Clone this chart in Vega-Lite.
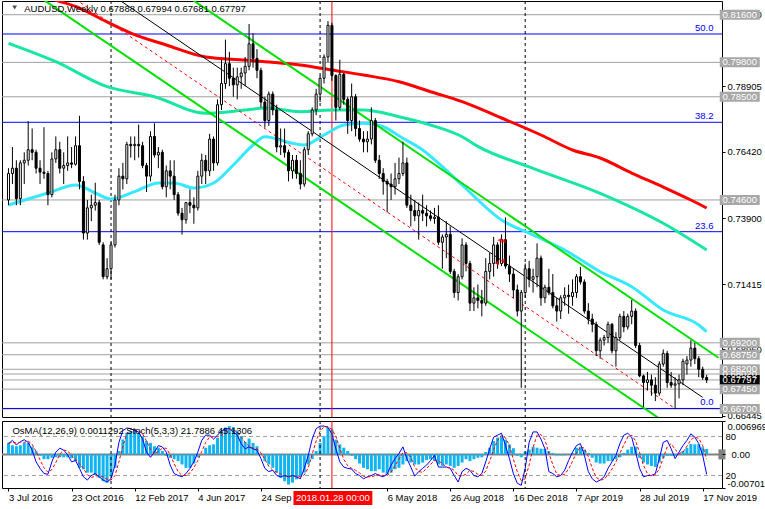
{
"$schema":"https://vega.github.io/schema/vega-lite/v6.json",
"background":"white",
"padding":{"left":0,"top":0,"right":0,"bottom":0},
"spacing":4,
"bounds":"flush",
"config":{"view":{"stroke":"black","strokeWidth":1},"axis":{"labelFont":"Liberation Sans","labelFontSize":9.5,"labelColor":"black","tickColor":"black","domain":false,"grid":false,"labelOverlap":false,"labelBound":false}},
"datasets":{
"cd":[
{"d":"2016-07-03","o":0.7460,"h":0.7580,"l":0.7440,"c":0.7560,"m":0.0024,"k":69,"s":70},
{"d":"2016-07-10","o":0.7560,"h":0.7660,"l":0.7520,"c":0.7580,"m":0.0019,"k":74,"s":71},
{"d":"2016-07-17","o":0.7580,"h":0.7610,"l":0.7440,"c":0.7465,"m":0.0017,"k":67,"s":70},
{"d":"2016-07-24","o":0.7465,"h":0.7610,"l":0.7440,"c":0.7600,"m":0.0019,"k":72,"s":71},
{"d":"2016-07-31","o":0.7600,"h":0.7640,"l":0.7520,"c":0.7610,"m":0.0024,"k":75,"s":71},
{"d":"2016-08-07","o":0.7610,"h":0.7758,"l":0.7590,"c":0.7650,"m":0.0024,"k":71,"s":73},
{"d":"2016-08-14","o":0.7650,"h":0.7730,"l":0.7610,"c":0.7640,"m":0.0016,"k":59,"s":68},
{"d":"2016-08-21","o":0.7640,"h":0.7650,"l":0.7560,"c":0.7580,"m":0.0007,"k":41,"s":57},
{"d":"2016-08-28","o":0.7580,"h":0.7610,"l":0.7520,"c":0.7565,"m":-0.0003,"k":31,"s":44},
{"d":"2016-09-04","o":0.7565,"h":0.7735,"l":0.7540,"c":0.7560,"m":-0.0010,"k":23,"s":32},
{"d":"2016-09-11","o":0.7560,"h":0.7570,"l":0.7440,"c":0.7480,"m":-0.0010,"k":22,"s":25},
{"d":"2016-09-18","o":0.7480,"h":0.7640,"l":0.7470,"c":0.7615,"m":-0.0007,"k":41,"s":29},
{"d":"2016-09-25","o":0.7615,"h":0.7700,"l":0.7600,"c":0.7650,"m":-0.0006,"k":56,"s":40},
{"d":"2016-10-02","o":0.7650,"h":0.7680,"l":0.7560,"c":0.7580,"m":-0.0006,"k":62,"s":53},
{"d":"2016-10-09","o":0.7580,"h":0.7640,"l":0.7520,"c":0.7590,"m":-0.0006,"k":59,"s":59},
{"d":"2016-10-16","o":0.7590,"h":0.7700,"l":0.7570,"c":0.7600,"m":-0.0006,"k":52,"s":58},
{"d":"2016-10-23","o":0.7600,"h":0.7660,"l":0.7580,"c":0.7595,"m":-0.0008,"k":41,"s":51},
{"d":"2016-10-30","o":0.7595,"h":0.7700,"l":0.7590,"c":0.7665,"m":-0.0014,"k":43,"s":45},
{"d":"2016-11-06","o":0.7665,"h":0.7778,"l":0.7500,"c":0.7530,"m":-0.0028,"k":31,"s":38},
{"d":"2016-11-13","o":0.7530,"h":0.7550,"l":0.7310,"c":0.7335,"m":-0.0031,"k":18,"s":31},
{"d":"2016-11-20","o":0.7335,"h":0.7460,"l":0.7310,"c":0.7430,"m":-0.0038,"k":13,"s":21},
{"d":"2016-11-27","o":0.7430,"h":0.7480,"l":0.7380,"c":0.7440,"m":-0.0038,"k":20,"s":17},
{"d":"2016-12-04","o":0.7440,"h":0.7525,"l":0.7420,"c":0.7450,"m":-0.0043,"k":23,"s":19},
{"d":"2016-12-11","o":0.7450,"h":0.7460,"l":0.7290,"c":0.7300,"m":-0.0049,"k":18,"s":20},
{"d":"2016-12-18","o":0.7290,"h":0.7300,"l":0.7160,"c":0.7170,"m":-0.0056,"k":13,"s":18},
{"d":"2016-12-25","o":0.7170,"h":0.7240,"l":0.7160,"c":0.7200,"m":-0.0059,"k":10,"s":14},
{"d":"2017-01-01","o":0.7200,"h":0.7300,"l":0.7160,"c":0.7290,"m":-0.0045,"k":15,"s":13},
{"d":"2017-01-08","o":0.7290,"h":0.7480,"l":0.7280,"c":0.7460,"m":-0.0028,"k":36,"s":20},
{"d":"2017-01-15","o":0.7460,"h":0.7580,"l":0.7440,"c":0.7550,"m":0.0007,"k":71,"s":41},
{"d":"2017-01-22","o":0.7550,"h":0.7600,"l":0.7500,"c":0.7540,"m":0.0031,"k":89,"s":65},
{"d":"2017-01-29","o":0.7540,"h":0.7680,"l":0.7520,"c":0.7670,"m":0.0045,"k":93,"s":84},
{"d":"2017-02-05","o":0.7670,"h":0.7700,"l":0.7620,"c":0.7665,"m":0.0049,"k":92,"s":91},
{"d":"2017-02-12","o":0.7665,"h":0.7700,"l":0.7610,"c":0.7670,"m":0.0052,"k":89,"s":91},
{"d":"2017-02-19","o":0.7670,"h":0.7745,"l":0.7620,"c":0.7665,"m":0.0045,"k":87,"s":89},
{"d":"2017-02-26","o":0.7665,"h":0.7680,"l":0.7580,"c":0.7590,"m":0.0038,"k":76,"s":84},
{"d":"2017-03-05","o":0.7590,"h":0.7600,"l":0.7490,"c":0.7550,"m":0.0028,"k":56,"s":73},
{"d":"2017-03-12","o":0.7550,"h":0.7720,"l":0.7530,"c":0.7700,"m":0.0024,"k":48,"s":60},
{"d":"2017-03-19","o":0.7700,"h":0.7750,"l":0.7620,"c":0.7630,"m":0.0017,"k":56,"s":53},
{"d":"2017-03-26","o":0.7630,"h":0.7660,"l":0.7580,"c":0.7640,"m":0.0014,"k":66,"s":57},
{"d":"2017-04-02","o":0.7640,"h":0.7650,"l":0.7500,"c":0.7510,"m":0.0007,"k":64,"s":62},
{"d":"2017-04-09","o":0.7510,"h":0.7590,"l":0.7470,"c":0.7570,"m":-0.0003,"k":56,"s":62},
{"d":"2017-04-16","o":0.7570,"h":0.7610,"l":0.7500,"c":0.7550,"m":-0.0007,"k":36,"s":52},
{"d":"2017-04-23","o":0.7550,"h":0.7610,"l":0.7460,"c":0.7480,"m":-0.0010,"k":23,"s":38},
{"d":"2017-04-30","o":0.7480,"h":0.7490,"l":0.7400,"c":0.7410,"m":-0.0014,"k":20,"s":26},
{"d":"2017-05-07","o":0.7410,"h":0.7430,"l":0.7329,"c":0.7385,"m":-0.0021,"k":18,"s":20},
{"d":"2017-05-14","o":0.7385,"h":0.7450,"l":0.7370,"c":0.7450,"m":-0.0028,"k":23,"s":20},
{"d":"2017-05-21","o":0.7450,"h":0.7500,"l":0.7410,"c":0.7440,"m":-0.0028,"k":31,"s":24},
{"d":"2017-05-28","o":0.7440,"h":0.7470,"l":0.7370,"c":0.7430,"m":-0.0019,"k":41,"s":32},
{"d":"2017-06-04","o":0.7430,"h":0.7570,"l":0.7420,"c":0.7550,"m":-0.0006,"k":56,"s":43},
{"d":"2017-06-11","o":0.7550,"h":0.7635,"l":0.7520,"c":0.7610,"m":0.0001,"k":74,"s":57},
{"d":"2017-06-18","o":0.7610,"h":0.7630,"l":0.7520,"c":0.7570,"m":0.0014,"k":82,"s":71},
{"d":"2017-06-25","o":0.7570,"h":0.7710,"l":0.7550,"c":0.7690,"m":0.0019,"k":82,"s":79},
{"d":"2017-07-02","o":0.7690,"h":0.7700,"l":0.7570,"c":0.7600,"m":0.0021,"k":76,"s":80},
{"d":"2017-07-09","o":0.7600,"h":0.7840,"l":0.7590,"c":0.7820,"m":0.0035,"k":82,"s":80},
{"d":"2017-07-16","o":0.7820,"h":0.7990,"l":0.7800,"c":0.7900,"m":0.0049,"k":89,"s":82},
{"d":"2017-07-23","o":0.7900,"h":0.8066,"l":0.7880,"c":0.7975,"m":0.0056,"k":91,"s":87},
{"d":"2017-07-30","o":0.7975,"h":0.8020,"l":0.7890,"c":0.7920,"m":0.0059,"k":92,"s":91},
{"d":"2017-08-06","o":0.7920,"h":0.7960,"l":0.7850,"c":0.7895,"m":0.0057,"k":87,"s":90},
{"d":"2017-08-13","o":0.7895,"h":0.7960,"l":0.7840,"c":0.7925,"m":0.0050,"k":82,"s":87},
{"d":"2017-08-20","o":0.7925,"h":0.7960,"l":0.7880,"c":0.7940,"m":0.0038,"k":69,"s":79},
{"d":"2017-08-27","o":0.7940,"h":0.8000,"l":0.7890,"c":0.7965,"m":0.0026,"k":61,"s":71},
{"d":"2017-09-03","o":0.7965,"h":0.8125,"l":0.7950,"c":0.8050,"m":0.0033,"k":64,"s":65},
{"d":"2017-09-10","o":0.8050,"h":0.8090,"l":0.7960,"c":0.7995,"m":0.0024,"k":61,"s":62},
{"d":"2017-09-17","o":0.7995,"h":0.8030,"l":0.7920,"c":0.7950,"m":0.0017,"k":59,"s":61},
{"d":"2017-09-24","o":0.7950,"h":0.7960,"l":0.7810,"c":0.7830,"m":0.0000,"k":46,"s":55},
{"d":"2017-10-01","o":0.7830,"h":0.7850,"l":0.7733,"c":0.7760,"m":-0.0014,"k":31,"s":45},
{"d":"2017-10-08","o":0.7760,"h":0.7870,"l":0.7740,"c":0.7860,"m":-0.0021,"k":26,"s":34},
{"d":"2017-10-15","o":0.7860,"h":0.7870,"l":0.7780,"c":0.7800,"m":-0.0028,"k":28,"s":28},
{"d":"2017-10-22","o":0.7800,"h":0.7820,"l":0.7640,"c":0.7660,"m":-0.0038,"k":20,"s":25},
{"d":"2017-10-29","o":0.7660,"h":0.7730,"l":0.7630,"c":0.7665,"m":-0.0049,"k":18,"s":22},
{"d":"2017-11-05","o":0.7665,"h":0.7730,"l":0.7620,"c":0.7640,"m":-0.0056,"k":20,"s":19},
{"d":"2017-11-12","o":0.7640,"h":0.7650,"l":0.7530,"c":0.7570,"m":-0.0063,"k":18,"s":19},
{"d":"2017-11-19","o":0.7570,"h":0.7630,"l":0.7540,"c":0.7610,"m":-0.0059,"k":20,"s":19},
{"d":"2017-11-26","o":0.7610,"h":0.7630,"l":0.7540,"c":0.7560,"m":-0.0052,"k":18,"s":19},
{"d":"2017-12-03","o":0.7560,"h":0.7610,"l":0.7500,"c":0.7520,"m":-0.0045,"k":15,"s":18},
{"d":"2017-12-10","o":0.7520,"h":0.7660,"l":0.7510,"c":0.7650,"m":-0.0038,"k":31,"s":21},
{"d":"2017-12-17","o":0.7650,"h":0.7720,"l":0.7630,"c":0.7710,"m":-0.0021,"k":51,"s":32},
{"d":"2017-12-24","o":0.7710,"h":0.7810,"l":0.7700,"c":0.7800,"m":-0.0010,"k":76,"s":53},
{"d":"2017-12-31","o":0.7800,"h":0.7880,"l":0.7780,"c":0.7860,"m":0.0007,"k":92,"s":73},
{"d":"2018-01-07","o":0.7860,"h":0.7930,"l":0.7830,"c":0.7920,"m":0.0024,"k":96,"s":88},
{"d":"2018-01-14","o":0.7920,"h":0.8010,"l":0.7900,"c":0.8000,"m":0.0038,"k":96,"s":95},
{"d":"2018-01-21","o":0.8000,"h":0.8136,"l":0.7980,"c":0.8120,"m":0.0056,"k":94,"s":95},
{"d":"2018-01-28","o":0.8120,"h":0.8130,"l":0.7910,"c":0.7930,"m":0.0052,"k":84,"s":91},
{"d":"2018-02-04","o":0.7930,"h":0.7935,"l":0.7760,"c":0.7810,"m":0.0031,"k":61,"s":80},
{"d":"2018-02-11","o":0.7810,"h":0.7990,"l":0.7800,"c":0.7935,"m":0.0021,"k":41,"s":62},
{"d":"2018-02-18","o":0.7935,"h":0.7940,"l":0.7820,"c":0.7840,"m":0.0014,"k":33,"s":45},
{"d":"2018-02-25","o":0.7840,"h":0.7850,"l":0.7710,"c":0.7760,"m":0.0007,"k":31,"s":35},
{"d":"2018-03-04","o":0.7760,"h":0.7900,"l":0.7720,"c":0.7850,"m":-0.0003,"k":30,"s":31},
{"d":"2018-03-11","o":0.7850,"h":0.7860,"l":0.7700,"c":0.7730,"m":-0.0010,"k":23,"s":28},
{"d":"2018-03-18","o":0.7730,"h":0.7760,"l":0.7680,"c":0.7690,"m":-0.0019,"k":20,"s":24},
{"d":"2018-03-25","o":0.7690,"h":0.7720,"l":0.7640,"c":0.7680,"m":-0.0028,"k":15,"s":19},
{"d":"2018-04-01","o":0.7680,"h":0.7720,"l":0.7640,"c":0.7690,"m":-0.0031,"k":18,"s":18},
{"d":"2018-04-08","o":0.7690,"h":0.7810,"l":0.7670,"c":0.7760,"m":-0.0035,"k":20,"s":18},
{"d":"2018-04-15","o":0.7760,"h":0.7770,"l":0.7600,"c":0.7610,"m":-0.0035,"k":23,"s":20},
{"d":"2018-04-22","o":0.7610,"h":0.7630,"l":0.7540,"c":0.7560,"m":-0.0031,"k":20,"s":21},
{"d":"2018-04-29","o":0.7560,"h":0.7580,"l":0.7480,"c":0.7530,"m":-0.0038,"k":18,"s":20},
{"d":"2018-05-06","o":0.7530,"h":0.7540,"l":0.7413,"c":0.7520,"m":-0.0042,"k":22,"s":20},
{"d":"2018-05-13","o":0.7520,"h":0.7560,"l":0.7460,"c":0.7510,"m":-0.0038,"k":36,"s":25},
{"d":"2018-05-20","o":0.7510,"h":0.7600,"l":0.7480,"c":0.7540,"m":-0.0031,"k":46,"s":35},
{"d":"2018-05-27","o":0.7540,"h":0.7620,"l":0.7520,"c":0.7560,"m":-0.0028,"k":54,"s":45},
{"d":"2018-06-03","o":0.7560,"h":0.7680,"l":0.7550,"c":0.7600,"m":-0.0021,"k":64,"s":55},
{"d":"2018-06-10","o":0.7600,"h":0.7620,"l":0.7430,"c":0.7440,"m":-0.0014,"k":46,"s":55},
{"d":"2018-06-17","o":0.7440,"h":0.7480,"l":0.7360,"c":0.7420,"m":-0.0017,"k":33,"s":48},
{"d":"2018-06-24","o":0.7420,"h":0.7460,"l":0.7380,"c":0.7400,"m":-0.0021,"k":19,"s":33},
{"d":"2018-07-01","o":0.7400,"h":0.7450,"l":0.7310,"c":0.7420,"m":-0.0021,"k":26,"s":26},
{"d":"2018-07-08","o":0.7420,"h":0.7480,"l":0.7380,"c":0.7410,"m":-0.0017,"k":31,"s":25},
{"d":"2018-07-15","o":0.7410,"h":0.7440,"l":0.7360,"c":0.7400,"m":-0.0012,"k":36,"s":31},
{"d":"2018-07-22","o":0.7400,"h":0.7420,"l":0.7380,"c":0.7390,"m":-0.0010,"k":43,"s":37},
{"d":"2018-07-29","o":0.7390,"h":0.7430,"l":0.7370,"c":0.7395,"m":-0.0014,"k":51,"s":43},
{"d":"2018-08-05","o":0.7395,"h":0.7440,"l":0.7290,"c":0.7300,"m":-0.0021,"k":33,"s":42},
{"d":"2018-08-12","o":0.7300,"h":0.7330,"l":0.7200,"c":0.7320,"m":-0.0024,"k":33,"s":39},
{"d":"2018-08-19","o":0.7320,"h":0.7380,"l":0.7240,"c":0.7330,"m":-0.0021,"k":33,"s":33},
{"d":"2018-08-26","o":0.7330,"h":0.7360,"l":0.7180,"c":0.7190,"m":-0.0024,"k":31,"s":32},
{"d":"2018-09-02","o":0.7190,"h":0.7200,"l":0.7090,"c":0.7110,"m":-0.0028,"k":20,"s":28},
{"d":"2018-09-09","o":0.7110,"h":0.7180,"l":0.7080,"c":0.7170,"m":-0.0024,"k":10,"s":20},
{"d":"2018-09-16","o":0.7170,"h":0.7315,"l":0.7160,"c":0.7290,"m":-0.0017,"k":26,"s":19},
{"d":"2018-09-23","o":0.7290,"h":0.7300,"l":0.7190,"c":0.7220,"m":-0.0010,"k":31,"s":22},
{"d":"2018-09-30","o":0.7220,"h":0.7230,"l":0.7040,"c":0.7070,"m":-0.0014,"k":28,"s":28},
{"d":"2018-10-07","o":0.7070,"h":0.7130,"l":0.7040,"c":0.7090,"m":-0.0010,"k":20,"s":26},
{"d":"2018-10-14","o":0.7090,"h":0.7140,"l":0.7050,"c":0.7080,"m":-0.0007,"k":18,"s":22},
{"d":"2018-10-21","o":0.7080,"h":0.7120,"l":0.7020,"c":0.7070,"m":-0.0006,"k":23,"s":20},
{"d":"2018-10-28","o":0.7070,"h":0.7240,"l":0.7060,"c":0.7190,"m":0.0005,"k":41,"s":27},
{"d":"2018-11-04","o":0.7190,"h":0.7260,"l":0.7160,"c":0.7220,"m":0.0014,"k":61,"s":42},
{"d":"2018-11-11","o":0.7220,"h":0.7320,"l":0.7170,"c":0.7290,"m":0.0028,"k":79,"s":60},
{"d":"2018-11-18","o":0.7290,"h":0.7300,"l":0.7200,"c":0.7220,"m":0.0035,"k":82,"s":74},
{"d":"2018-11-25","o":0.7220,"h":0.7330,"l":0.7210,"c":0.7310,"m":0.0038,"k":85,"s":82},
{"d":"2018-12-02","o":0.7310,"h":0.7394,"l":0.7200,"c":0.7210,"m":0.0031,"k":66,"s":78},
{"d":"2018-12-09","o":0.7210,"h":0.7250,"l":0.7150,"c":0.7180,"m":0.0021,"k":46,"s":66},
{"d":"2018-12-16","o":0.7180,"h":0.7200,"l":0.7090,"c":0.7120,"m":0.0013,"k":23,"s":45},
{"d":"2018-12-23","o":0.7120,"h":0.7140,"l":0.7020,"c":0.7040,"m":-0.0003,"k":8,"s":26},
{"d":"2018-12-30","o":0.7040,"h":0.7120,"l":0.6750,"c":0.7110,"m":-0.0006,"k":5,"s":12},
{"d":"2019-01-06","o":0.7110,"h":0.7220,"l":0.7090,"c":0.7200,"m":0.0006,"k":31,"s":15},
{"d":"2019-01-13","o":0.7200,"h":0.7230,"l":0.7130,"c":0.7160,"m":0.0010,"k":71,"s":36},
{"d":"2019-01-20","o":0.7160,"h":0.7200,"l":0.7110,"c":0.7170,"m":0.0016,"k":87,"s":63},
{"d":"2019-01-27","o":0.7170,"h":0.7296,"l":0.7130,"c":0.7240,"m":0.0014,"k":87,"s":82},
{"d":"2019-02-03","o":0.7240,"h":0.7250,"l":0.7060,"c":0.7090,"m":0.0012,"k":76,"s":83},
{"d":"2019-02-10","o":0.7090,"h":0.7140,"l":0.7070,"c":0.7130,"m":0.0012,"k":61,"s":75},
{"d":"2019-02-17","o":0.7130,"h":0.7200,"l":0.7100,"c":0.7110,"m":0.0007,"k":26,"s":54},
{"d":"2019-02-24","o":0.7110,"h":0.7180,"l":0.7050,"c":0.7060,"m":0.0003,"k":23,"s":37},
{"d":"2019-03-03","o":0.7060,"h":0.7090,"l":0.7000,"c":0.7040,"m":-0.0002,"k":18,"s":22},
{"d":"2019-03-10","o":0.7040,"h":0.7100,"l":0.7010,"c":0.7090,"m":-0.0002,"k":20,"s":20},
{"d":"2019-03-17","o":0.7090,"h":0.7130,"l":0.7060,"c":0.7100,"m":-0.0002,"k":28,"s":22},
{"d":"2019-03-24","o":0.7100,"h":0.7140,"l":0.7030,"c":0.7095,"m":0.0000,"k":43,"s":30},
{"d":"2019-03-31","o":0.7095,"h":0.7160,"l":0.7060,"c":0.7110,"m":0.0003,"k":56,"s":42},
{"d":"2019-04-07","o":0.7110,"h":0.7180,"l":0.7090,"c":0.7170,"m":0.0014,"k":66,"s":55},
{"d":"2019-04-14","o":0.7170,"h":0.7207,"l":0.7140,"c":0.7150,"m":0.0016,"k":69,"s":64},
{"d":"2019-04-21","o":0.7150,"h":0.7160,"l":0.7030,"c":0.7040,"m":0.0010,"k":51,"s":62},
{"d":"2019-04-28","o":0.7040,"h":0.7070,"l":0.6990,"c":0.7010,"m":0.0003,"k":26,"s":49},
{"d":"2019-05-05","o":0.7010,"h":0.7030,"l":0.6960,"c":0.6990,"m":-0.0007,"k":15,"s":31},
{"d":"2019-05-12","o":0.6990,"h":0.7000,"l":0.6870,"c":0.6890,"m":-0.0017,"k":10,"s":17},
{"d":"2019-05-19","o":0.6890,"h":0.6940,"l":0.6860,"c":0.6930,"m":-0.0019,"k":13,"s":13},
{"d":"2019-05-26","o":0.6930,"h":0.6950,"l":0.6910,"c":0.6940,"m":-0.0019,"k":18,"s":14},
{"d":"2019-06-02","o":0.6940,"h":0.7000,"l":0.6920,"c":0.6990,"m":-0.0014,"k":31,"s":21},
{"d":"2019-06-09","o":0.6990,"h":0.6995,"l":0.6880,"c":0.6890,"m":-0.0014,"k":41,"s":30},
{"d":"2019-06-16","o":0.6890,"h":0.6960,"l":0.6830,"c":0.6940,"m":-0.0010,"k":51,"s":41},
{"d":"2019-06-23","o":0.6940,"h":0.7030,"l":0.6930,"c":0.7020,"m":-0.0006,"k":69,"s":54},
{"d":"2019-06-30","o":0.7020,"h":0.7040,"l":0.6960,"c":0.6980,"m":0.0003,"k":82,"s":67},
{"d":"2019-07-07","o":0.6980,"h":0.7030,"l":0.6970,"c":0.7020,"m":0.0010,"k":85,"s":79},
{"d":"2019-07-14","o":0.7020,"h":0.7082,"l":0.6990,"c":0.7040,"m":0.0016,"k":79,"s":82},
{"d":"2019-07-21","o":0.7040,"h":0.7050,"l":0.6900,"c":0.6910,"m":0.0016,"k":56,"s":73},
{"d":"2019-07-28","o":0.6910,"h":0.6920,"l":0.6790,"c":0.6795,"m":-0.0007,"k":31,"s":55},
{"d":"2019-08-04","o":0.6795,"h":0.6800,"l":0.6677,"c":0.6770,"m":-0.0017,"k":18,"s":35},
{"d":"2019-08-11","o":0.6770,"h":0.6810,"l":0.6740,"c":0.6780,"m":-0.0021,"k":20,"s":23},
{"d":"2019-08-18","o":0.6780,"h":0.6800,"l":0.6720,"c":0.6760,"m":-0.0024,"k":20,"s":19},
{"d":"2019-08-25","o":0.6760,"h":0.6790,"l":0.6700,"c":0.6730,"m":-0.0026,"k":23,"s":21},
{"d":"2019-09-01","o":0.6730,"h":0.6850,"l":0.6720,"c":0.6840,"m":-0.0017,"k":46,"s":30},
{"d":"2019-09-08","o":0.6840,"h":0.6895,"l":0.6830,"c":0.6880,"m":-0.0007,"k":71,"s":47},
{"d":"2019-09-15","o":0.6880,"h":0.6890,"l":0.6750,"c":0.6770,"m":-0.0003,"k":74,"s":64},
{"d":"2019-09-22","o":0.6770,"h":0.6810,"l":0.6750,"c":0.6760,"m":-0.0003,"k":61,"s":69},
{"d":"2019-09-29","o":0.6760,"h":0.6790,"l":0.6670,"c":0.6765,"m":-0.0003,"k":46,"s":60},
{"d":"2019-10-06","o":0.6765,"h":0.6800,"l":0.6710,"c":0.6780,"m":0.0000,"k":56,"s":54},
{"d":"2019-10-13","o":0.6780,"h":0.6860,"l":0.6760,"c":0.6850,"m":0.0007,"k":66,"s":56},
{"d":"2019-10-20","o":0.6840,"h":0.6870,"l":0.6800,"c":0.6855,"m":0.0014,"k":74,"s":65},
{"d":"2019-10-27","o":0.6855,"h":0.6930,"l":0.6830,"c":0.6900,"m":0.0022,"k":84,"s":75},
{"d":"2019-11-03","o":0.6900,"h":0.6920,"l":0.6840,"c":0.6860,"m":0.0021,"k":79,"s":79},
{"d":"2019-11-10","o":0.6860,"h":0.6870,"l":0.6790,"c":0.6820,"m":0.0021,"k":69,"s":77},
{"d":"2019-11-17","o":0.6820,"h":0.6830,"l":0.6780,"c":0.6789,"m":0.0015,"k":51,"s":66},
{"d":"2019-11-24","o":0.67888,"h":0.67994,"l":0.67681,"c":0.67797,"m":0.0011292,"k":21.7886,"s":45.1306}
],
"ma":[
{"d":"2016-07-03","v":0.8290,"n":"slow"},{"d":"2016-09-25","v":0.82157,"n":"slow"},{"d":"2016-11-06","v":0.81854,"n":"slow"},{"d":"2016-12-18","v":0.81401,"n":"slow"},{"d":"2017-02-05","v":0.80909,"n":"slow"},{"d":"2017-04-09","v":0.80456,"n":"slow"},{"d":"2017-06-18","v":0.80002,"n":"slow"},{"d":"2017-08-27","v":0.79889,"n":"slow"},{"d":"2017-10-01","v":0.79825,"n":"slow"},{"d":"2017-12-03","v":0.79700,"n":"slow"},{"d":"2018-01-28","v":0.79511,"n":"slow"},{"d":"2018-03-25","v":0.79322,"n":"slow"},{"d":"2018-05-27","v":0.79069,"n":"slow"},{"d":"2018-07-22","v":0.78691,"n":"slow"},{"d":"2018-09-16","v":0.78313,"n":"slow"},{"d":"2018-11-25","v":0.77697,"n":"slow"},{"d":"2019-02-03","v":0.77055,"n":"slow"},{"d":"2019-03-31","v":0.76488,"n":"slow"},{"d":"2019-05-19","v":0.76185,"n":"slow"},{"d":"2019-07-14","v":0.75618,"n":"slow"},{"d":"2019-09-08","v":0.75089,"n":"slow"},{"d":"2019-10-27","v":0.74598,"n":"slow"},{"d":"2019-11-24","v":0.74296,"n":"slow"},
{"d":"2016-07-03","v":0.80520,"n":"mid"},{"d":"2016-09-25","v":0.79825,"n":"mid"},{"d":"2016-12-25","v":0.78880,"n":"mid"},{"d":"2017-03-19","v":0.78502,"n":"mid"},{"d":"2017-06-18","v":0.77875,"n":"mid"},{"d":"2017-08-27","v":0.78000,"n":"mid"},{"d":"2017-10-01","v":0.78075,"n":"mid"},{"d":"2017-12-03","v":0.77935,"n":"mid"},{"d":"2018-01-28","v":0.78000,"n":"mid"},{"d":"2018-03-25","v":0.78000,"n":"mid"},{"d":"2018-05-27","v":0.77746,"n":"mid"},{"d":"2018-07-22","v":0.77433,"n":"mid"},{"d":"2018-09-16","v":0.76990,"n":"mid"},{"d":"2018-10-14","v":0.76623,"n":"mid"},{"d":"2019-01-20","v":0.75796,"n":"mid"},{"d":"2019-05-19","v":0.74851,"n":"mid"},{"d":"2019-09-08","v":0.73717,"n":"mid"},{"d":"2019-11-24","v":0.72708,"n":"mid"},
{"d":"2016-07-03","v":0.74409,"n":"fast"},{"d":"2016-09-11","v":0.74863,"n":"fast"},{"d":"2016-10-30","v":0.75165,"n":"fast"},{"d":"2016-12-04","v":0.74863,"n":"fast"},{"d":"2017-01-01","v":0.74636,"n":"fast"},{"d":"2017-02-12","v":0.74912,"n":"fast"},{"d":"2017-03-26","v":0.75241,"n":"fast"},{"d":"2017-04-23","v":0.75241,"n":"fast"},{"d":"2017-05-28","v":0.75052,"n":"fast"},{"d":"2017-07-02","v":0.75241,"n":"fast"},{"d":"2017-08-06","v":0.75921,"n":"fast"},{"d":"2017-09-10","v":0.76677,"n":"fast"},{"d":"2017-10-01","v":0.76990,"n":"fast"},{"d":"2017-11-19","v":0.76741,"n":"fast"},{"d":"2017-12-10","v":0.76677,"n":"fast"},{"d":"2018-01-14","v":0.77055,"n":"fast"},{"d":"2018-02-18","v":0.77433,"n":"fast"},{"d":"2018-03-25","v":0.77497,"n":"fast"},{"d":"2018-04-29","v":0.77368,"n":"fast"},{"d":"2018-06-03","v":0.76930,"n":"fast"},{"d":"2018-07-08","v":0.76488,"n":"fast"},{"d":"2018-08-12","v":0.75857,"n":"fast"},{"d":"2018-09-16","v":0.75165,"n":"fast"},{"d":"2018-11-25","v":0.73842,"n":"fast"},{"d":"2019-01-20","v":0.73275,"n":"fast"},{"d":"2019-03-17","v":0.72708,"n":"fast"},{"d":"2019-05-19","v":0.71888,"n":"fast"},{"d":"2019-07-14","v":0.71321,"n":"fast"},{"d":"2019-09-08","v":0.70441,"n":"fast"},{"d":"2019-11-10","v":0.69874,"n":"fast"},{"d":"2019-11-24","v":0.69620,"n":"fast"}
],
"tl":[
{"d":"2017-03-26","p":0.83041,"n":"u"},{"d":"2019-12-15","p":0.68638,"n":"u"},
{"d":"2016-07-03","p":0.83064,"n":"l"},{"d":"2019-12-15","p":0.64821,"n":"l"},
{"d":"2017-01-15","p":0.82168,"n":"m"},{"d":"2019-11-17","p":0.67138,"n":"m"},
{"d":"2016-10-30","p":0.82183,"n":"r"},{"d":"2019-09-29","p":0.66715,"n":"r"}
],
"lv":[
{"p":0.8160,"k":"g"},{"p":0.7980,"k":"g"},{"p":0.7850,"k":"g"},{"p":0.7460,"k":"g"},{"p":0.6920,"k":"g"},{"p":0.6875,"k":"g"},{"p":0.6820,"k":"g"},{"p":0.6802,"k":"g"},{"p":0.67797,"k":"g"},{"p":0.6745,"k":"g"},{"p":0.6670,"k":"g"},
{"p":0.80872,"k":"b"},{"p":0.77535,"k":"b"},{"p":0.73400,"k":"b"},{"p":0.66720,"k":"b"}
],
"fib":[{"d":"2019-12-06T06:00:00Z","p":0.80872,"t":"50.0"},{"d":"2019-12-06T06:00:00Z","p":0.77535,"t":"38.2"},{"d":"2019-12-06T06:00:00Z","p":0.73400,"t":"23.6"},{"d":"2019-12-06T06:00:00Z","p":0.66720,"t":"0.0"}],
"bx":[
{"d":"2020-01-21T18:00:00Z","p":0.8160,"t":"0.81600","k":"g"},{"d":"2020-01-21T18:00:00Z","p":0.7980,"t":"0.79800","k":"g"},{"d":"2020-01-21T18:00:00Z","p":0.7850,"t":"0.78500","k":"g"},{"d":"2020-01-21T18:00:00Z","p":0.7460,"t":"0.74600","k":"g"},{"d":"2020-01-21T18:00:00Z","p":0.6920,"t":"0.69200","k":"g"},{"d":"2020-01-21T18:00:00Z","p":0.6875,"t":"0.68750","k":"g"},{"d":"2020-01-21T18:00:00Z","p":0.6820,"t":"0.68200","k":"g"},{"d":"2020-01-21T18:00:00Z","p":0.6802,"t":"0.68020","k":"g"},{"d":"2020-01-21T18:00:00Z","p":0.67797,"t":"0.67797","k":"b"},{"d":"2020-01-21T18:00:00Z","p":0.6745,"t":"0.67450","k":"g"},{"d":"2020-01-21T18:00:00Z","p":0.6670,"t":"0.66700","k":"g"}
],
"hd":[{"d":"2016-07-31T00:00:00Z","p":0.81835,"t":"AUDUSD,Weekly  0.67888 0.67994 0.67681 0.67797"}],
"tri":[{"d":"2016-07-14T00:00:00Z","p":0.81875}],
"arr":[{"d":"2018-11-21T12:00:00Z","p":0.7308},{"d":"2018-11-28T12:00:00Z","p":0.7305},{"d":"2018-11-16T06:00:00Z","p":0.7222},{"d":"2018-11-26T18:00:00Z","p":0.7230}],
"vl":[{"d":"2017-01-01","k":"y"},{"d":"2018-01-07","k":"y"},{"d":"2019-01-06","k":"y"},{"d":"2018-01-28","k":"r"}],
"osl":[{"d":"2016-07-10T00:00:00Z","v":89,"t":"OsMA(12,26,9) 0.0011292  Stoch(5,3,3) 21.7886 45.1306"}],
"zb":[{"d":"2019-12-21T03:00:00Z","v":0}],
"ch":[{"d":"2017-11-20T18:00:00Z","d2":"2018-04-09T18:00:00Z","v":-3.8,"v2":-25.3}],
"cht":[{"d":"2018-01-29T18:00:00Z","v":-15.3,"t":"2018.01.28 00:00"}]
},
"vconcat":[
{
"width":720,"height":416,
"encoding":{"x":{"field":"d","type":"temporal","title":null,"axis":null,"scale":{"type":"utc","domain":[{"year":2016,"month":6,"date":30,"hours":9,"utc":true},{"year":2019,"month":12,"date":12,"hours":9,"utc":true}]}}},
"layer":[
{"data":{"name":"lv"},"transform":[{"filter":"datum.k=='g'"}],"mark":{"type":"rule","stroke":"#a0a0a0","strokeWidth":1},
 "encoding":{"x":null,"y":{"field":"p","type":"quantitative","title":null,"scale":{"domain":[0.66397,0.82119],"nice":false,"zero":false},
 "axis":{"orient":"right","values":[0.8159,0.80165,0.78905,0.77645,0.7642,0.7516,0.739,0.72675,0.71415,0.7019,0.6896,0.6773,0.66445],"format":".5f","labelFlush":false,"tickSize":3,"labelPadding":2,"title":null}}}},
{"data":{"name":"lv"},"transform":[{"filter":"datum.k=='b'"}],"mark":{"type":"rule","stroke":"#0000ff","strokeWidth":1},
 "encoding":{"x":null,"y":{"field":"p","type":"quantitative","title":null}}},
{"data":{"name":"vl"},"transform":[{"filter":"datum.k=='y'"}],"mark":{"type":"rule","stroke":"black","strokeWidth":1,"strokeDash":[3,3]},"encoding":{}},
{"data":{"name":"vl"},"transform":[{"filter":"datum.k=='r'"}],"mark":{"type":"rule","stroke":"#ff0000","strokeWidth":1},"encoding":{}},
{"data":{"name":"ma"},"mark":{"type":"line","strokeWidth":3,"clip":true,"interpolate":"monotone"},
 "encoding":{"y":{"field":"v","type":"quantitative","title":null},"color":{"field":"n","type":"nominal","legend":null,"scale":{"domain":["slow","mid","fast"],"range":["#ff0000","#19e6a0","#38e8ff"]}}}},
{"data":{"name":"tl"},"transform":[{"filter":"datum.n=='u'||datum.n=='l'"}],"mark":{"type":"line","strokeWidth":2,"clip":true,"stroke":"#00e000"},
 "encoding":{"y":{"field":"p","type":"quantitative","title":null},"detail":{"field":"n"}}},
{"data":{"name":"tl"},"transform":[{"filter":"datum.n=='m'"}],"mark":{"type":"line","strokeWidth":1,"clip":true,"stroke":"black"},
 "encoding":{"y":{"field":"p","type":"quantitative","title":null}}},
{"data":{"name":"tl"},"transform":[{"filter":"datum.n=='r'"}],"mark":{"type":"line","strokeWidth":1,"clip":true,"stroke":"#ff0000","strokeDash":[3,3]},
 "encoding":{"y":{"field":"p","type":"quantitative","title":null}}},
{"data":{"name":"cd"},"mark":{"type":"rule","stroke":"black","strokeWidth":1,"clip":true},
 "encoding":{"y":{"field":"l","type":"quantitative","title":null},"y2":{"field":"h"}}},
{"data":{"name":"cd"},"mark":{"type":"bar","size":2,"stroke":"black","strokeWidth":1,"clip":true},
 "encoding":{"y":{"field":"o","type":"quantitative","title":null},"y2":{"field":"c"},"fill":{"condition":{"test":"datum.c>=datum.o","value":"white"},"value":"black"}}},
{"data":{"name":"arr"},"mark":{"type":"point","shape":"triangle-left","filled":true,"color":"#ff0000","size":28},
 "encoding":{"y":{"field":"p","type":"quantitative","title":null}}},
{"data":{"name":"fib"},"mark":{"type":"text","align":"right","baseline":"bottom","dy":-1,"color":"#0000ff","font":"Liberation Sans","fontSize":9.5},
 "encoding":{"y":{"field":"p","type":"quantitative","title":null},"text":{"field":"t"}}},
{"data":{"name":"hd"},"mark":{"type":"text","align":"left","baseline":"middle","color":"black","font":"Liberation Sans","fontSize":9.5},
 "encoding":{"y":{"field":"p","type":"quantitative","title":null},"text":{"field":"t"}}},
{"data":{"name":"tri"},"mark":{"type":"point","shape":"triangle-down","filled":true,"color":"black","size":22},
 "encoding":{"y":{"field":"p","type":"quantitative","title":null}}},
{"data":{"name":"bx"},"mark":{"type":"point","shape":"M-1,-0.25L1,-0.25L1,0.25L-1,0.25Z","filled":true,"size":1600,"strokeWidth":0,"opacity":1},
 "encoding":{"y":{"field":"p","type":"quantitative","title":null},"fill":{"condition":{"test":"datum.k=='b'","value":"black"},"value":"#a8a8a8"}}},
{"data":{"name":"bx"},"mark":{"type":"text","align":"center","baseline":"middle","color":"white","font":"Liberation Sans","fontSize":9.5},
 "encoding":{"y":{"field":"p","type":"quantitative","title":null},"text":{"field":"t"}}}
]
},
{
"width":720,"height":67,
"resolve":{"scale":{"y":"independent"}},
"encoding":{"x":{"field":"d","type":"temporal","title":null,"scale":{"type":"utc","domain":[{"year":2016,"month":6,"date":30,"hours":9,"utc":true},{"year":2019,"month":12,"date":12,"hours":9,"utc":true}]},
   "axis":{"values":[{"year":2016,"month":7,"date":3,"utc":true},{"year":2016,"month":10,"date":23,"utc":true},{"year":2017,"month":2,"date":12,"utc":true},{"year":2017,"month":6,"date":4,"utc":true},{"year":2017,"month":9,"date":24,"utc":true},{"year":2018,"month":5,"date":6,"utc":true},{"year":2018,"month":8,"date":26,"utc":true},{"year":2018,"month":12,"date":16,"utc":true},{"year":2019,"month":4,"date":7,"utc":true},{"year":2019,"month":7,"date":28,"utc":true},{"year":2019,"month":11,"date":17,"utc":true}],
   "labelExpr":"utcFormat(datum.value,'%-d %b %Y')","labelAlign":"left","labelFlush":false,"tickSize":3,"labelPadding":1,"title":null}}},
"layer":[
{"data":{"values":[{"v":80},{"v":20}]},"mark":{"type":"rule","stroke":"#a0a0a0","strokeDash":[4,3],"strokeWidth":1},
 "encoding":{"x":null,"y":{"field":"v","type":"quantitative","title":null,"axis":null,"scale":{"domain":[0.8,103.8],"nice":false,"zero":false}}}},
{"data":{"values":[{"v":0}]},"mark":{"type":"rule","stroke":"#808080","strokeWidth":2},
 "encoding":{"x":null,"y":{"field":"v","type":"quantitative","title":null,"axis":null,"scale":{"domain":[-0.00701,0.0069692],"nice":false,"zero":false}}}},
{"data":{"name":"cd"},"mark":{"type":"bar","size":3,"color":"#10b4f0"},
 "encoding":{
  "y":{"field":"m","type":"quantitative","title":null,"scale":{"domain":[-0.00701,0.0069692],"nice":false,"zero":false},
   "axis":{"orient":"right","zindex":1,"values":[0.0069692,0,-0.00701],"labelExpr":"datum.value>0.001?'0.0069692':(datum.value<-0.001?'-0.007010':'0.00')","labelFlush":true,"tickSize":3,"labelPadding":{"condition":{"test":"datum.value==0","value":6},"value":2},"title":null}},
  "y2":{"datum":0}}},
{"data":{"name":"cd"},"mark":{"type":"line","stroke":"#0000ff","strokeWidth":1},
 "encoding":{"y":{"field":"k","type":"quantitative","title":null,"scale":{"domain":[0.8,103.8],"nice":false,"zero":false},
  "axis":{"orient":"right","values":[80,20],"labelFlush":false,"ticks":false,"labelPadding":3,"title":null}}}},
{"data":{"name":"cd"},"mark":{"type":"line","stroke":"#ff0000","strokeWidth":1,"strokeDash":[3,2]},
 "encoding":{"y":{"field":"s","type":"quantitative","title":null,"axis":null,"scale":{"domain":[0.8,103.8],"nice":false,"zero":false}}}},
{"data":{"name":"vl"},"transform":[{"filter":"datum.k=='y'"}],"mark":{"type":"rule","stroke":"black","strokeWidth":1,"strokeDash":[3,3]},"encoding":{}},
{"data":{"name":"vl"},"transform":[{"filter":"datum.k=='r'"}],"mark":{"type":"rule","stroke":"#ff0000","strokeWidth":1},"encoding":{}},
{"data":{"name":"osl"},"mark":{"type":"text","align":"left","baseline":"middle","color":"black","font":"Liberation Sans","fontSize":9.5},
 "encoding":{"y":{"field":"v","type":"quantitative","title":null,"axis":null,"scale":{"domain":[0.8,103.8],"nice":false,"zero":false}},"text":{"field":"t"}}},
{"data":{"name":"zb"},"mark":{"type":"point","shape":"M-0.7,-1L0.7,-1L0.7,1L-0.7,1Z","filled":true,"size":100,"strokeWidth":0,"color":"#808080","opacity":1},
 "encoding":{"y":{"field":"v","type":"quantitative","title":null,"axis":null,"scale":{"domain":[-0.00701,0.0069692],"nice":false,"zero":false}}}},
{"data":{"name":"ch"},"mark":{"type":"rect","color":"#ff0000"},
 "encoding":{"x2":{"field":"d2"},"y":{"field":"v","type":"quantitative","title":null,"axis":null,"scale":{"domain":[0.8,103.8],"nice":false,"zero":false}},"y2":{"field":"v2"}}},
{"data":{"name":"cht"},"mark":{"type":"text","align":"center","baseline":"middle","color":"white","font":"Liberation Sans","fontSize":9.5},
 "encoding":{"y":{"field":"v","type":"quantitative","title":null,"axis":null,"scale":{"domain":[0.8,103.8],"nice":false,"zero":false}},"text":{"field":"t"}}}
]
}
]
}
